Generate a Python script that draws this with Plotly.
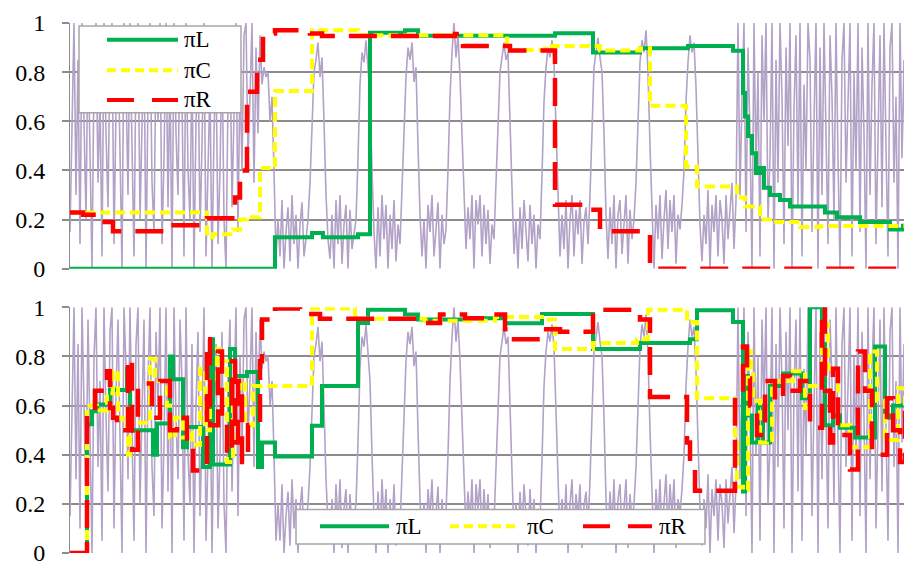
import plotly.graph_objects as go

# ---------------- data ----------------
# background signal (percent), sampled every 2 time units, shared by both panels
signal_pct = [
    15, 55, 100, 30, 85, 10, 100, 60, 20, 95,
    45, 0, 80, 100, 35, 70, 5, 100, 55, 25,
    90, 100, 10, 65, 95, 40, 0, 100, 75, 30,
    100, 50, 5, 85, 100, 20, 60, 95, 0, 70,
    100, 35, 15, 90, 60, 100, 10, 45, 100, 25,
    80, 0, 100, 55, 30, 95, 70, 5, 100, 40,
    20, 85, 0, 60, 90, 15, 50, 100, 5, 35,
    75, 0, 55, 85, 10, 40, 90, 20, 0, 70,
    95, 25, 60, 100, 15, 80, 40, 95, 100, 45,
    70, 100, 35, 90, 55, 95, 75, 82, 78, 80, 60,
    70, 40, 5,
    20, 5, 28, 0, 15, 25, 3, 30, 10, 22, 0, 18, 27, 5, 12, 20,
    35, 60, 80, 85, 92, 78, 86, 60, 30, 12, 4,
    22, 0, 28, 10, 30, 2, 18, 26, 0, 24, 8, 15,
    20, 45, 75, 88, 84, 93, 80, 70, 40, 15, 0,
    25, 5, 30, 12, 26, 0, 22, 8, 28, 3, 18, 10,
    30, 55, 78, 90, 85, 92, 76, 82, 50, 22, 5,
    20, 0, 26, 15, 30, 5, 18, 27, 0, 22, 10, 16,
    40, 70, 88, 100, 86, 95, 78, 55, 25, 8,
    25, 12, 30, 0, 28, 18, 30, 5, 26, 10, 24, 2, 18, 12,
    35, 62, 80, 86, 92, 85, 88, 60, 28, 6,
    20, 0, 25, 8, 28, 15, 3, 26, 10, 22, 0, 18, 12,
    38, 68, 82, 90, 86, 93, 84, 58, 26, 5,
    22, 8, 28, 0, 20, 30, 5, 24, 14, 28, 2, 19, 25, 10,
    30, 60, 82, 88, 94, 86, 80, 55, 22, 4,
    25, 10, 30, 0, 22, 28, 6, 18, 30, 2, 24, 12, 20,
    35, 65, 84, 93, 88, 97, 80, 50, 20, 0,
    26, 12, 30, 4, 20, 32, 8, 28, 15, 30, 2, 22, 16, 26,
    40, 68, 84, 95, 88, 92, 74, 48, 18, 3,
    22, 10, 32, 0, 26, 15, 30, 5, 28, 20, 2, 30, 12, 24, 35, 8, 28,
    100, 30, 70, 100, 15, 90, 55, 0, 100, 40,
    80, 5, 95, 60, 100, 20, 45, 100, 0, 85,
    35, 100, 70, 10, 90, 50, 100, 0, 65, 95,
    25, 100, 5, 75, 40, 100, 85, 15, 60, 100,
    0, 90, 30, 100, 55, 10, 95, 70, 20, 100,
    45, 0, 85, 100, 35, 65, 100, 5, 80, 40,
    100, 15, 90, 55, 0, 100, 30, 75, 100, 10,
    60, 95, 25, 100, 50, 5, 90, 100, 35, 70,
    0, 100, 45, 85, 15, 100, 60,
]
signal_step = 2

# top panel step series: breakpoints (time, value)
top_L_t = [0, 205, 242, 253, 288, 300, 335, 348, 485, 523, 570, 618, 663, 673, 675, 678, 682, 686, 690, 694, 700, 710, 720, 755, 767, 790, 820, 833, 840]
top_L_v = [0, 0.128, 0.145, 0.128, 0.14, 0.96, 0.97, 0.948, 0.958, 0.88, 0.897, 0.906, 0.887, 0.715, 0.62, 0.54, 0.47, 0.39, 0.41, 0.33, 0.30, 0.28, 0.253, 0.229, 0.21, 0.19, 0.16, 0.175, 0.175]

top_C_t = [0, 137, 143, 163, 170, 177, 190, 205, 242, 288, 437, 475, 530, 570, 580, 616, 627, 667, 675, 690, 700, 730, 750, 840]
top_C_v = [0.229, 0.128, 0.14, 0.16, 0.2, 0.21, 0.41, 0.723, 0.97, 0.95, 0.89, 0.906, 0.888, 0.897, 0.663, 0.415, 0.335, 0.29, 0.253, 0.2, 0.19, 0.17, 0.174, 0.174]

top_R_t = [0, 13, 30, 43, 95, 137, 165, 170, 177, 187, 193, 205, 240, 252, 385, 393, 440, 485, 510, 530, 580, 840]
top_R_v = [0.229, 0.22, 0.19, 0.153, 0.177, 0.205, 0.29, 0.4, 0.72, 0.85, 0.957, 0.97, 0.957, 0.947, 0.955, 0.906, 0.888, 0.26, 0.24, 0.153, 0.0, 0.0]

# bottom panel step series
bot_L_t = [0, 17, 22, 27, 40, 57, 60, 83, 87, 100, 103, 113, 117, 133, 140, 143, 160, 165, 177, 188, 192, 205, 242, 252, 288, 298, 335, 348, 395, 435, 472, 523, 570, 620, 627, 663, 673, 675, 678, 682, 688, 693, 700, 713, 732, 740, 752, 755, 763, 770, 785, 805, 815, 819, 823, 833, 840]
bot_L_v = [0, 0.524, 0.577, 0.604, 0.663, 0.75, 0.50, 0.40, 0.527, 0.80, 0.707, 0.43, 0.513, 0.35, 0.87, 0.36, 0.83, 0.72, 0.737, 0.35, 0.45, 0.393, 0.518, 0.68, 0.936, 0.99, 0.97, 0.95, 0.955, 0.935, 0.973, 0.83, 0.855, 0.87, 0.988, 0.94, 0.25, 0.72, 0.56, 0.45, 0.6, 0.45, 0.68, 0.73, 0.63, 1.0, 0.85, 0.52, 0.56, 0.51, 0.47, 0.84, 0.55, 0.56, 0.6, 0.6, 0.6]

bot_C_t = [0, 17, 27, 37, 43, 48, 53, 58, 60, 80, 85, 97, 100, 105, 113, 117, 122, 130, 135, 140, 147, 150, 157, 163, 170, 175, 183, 202, 242, 285, 355, 425, 475, 485, 523, 567, 578, 617, 627, 665, 667, 673, 678, 681, 683, 690, 697, 702, 723, 735, 740, 752, 758, 768, 780, 800, 807, 815, 828, 835, 840]
bot_C_v = [0, 0.6, 0.58, 0.65, 0.74, 0.55, 0.52, 0.4, 0.53, 0.79, 0.7, 0.6, 0.47, 0.55, 0.47, 0.49, 0.44, 0.75, 0.5, 0.7, 0.83, 0.78, 0.37, 0.6, 0.7, 0.52, 0.68, 0.68, 0.995, 0.953, 0.945, 0.96, 0.95, 0.83, 0.855, 0.87, 0.99, 0.94, 0.63, 0.45, 0.27, 0.256, 0.82, 0.74, 0.62, 0.45, 0.46, 0.7, 0.74, 0.59, 0.68, 0.93, 0.75, 0.52, 0.43, 0.82, 0.62, 0.46, 0.67, 0.48, 0.48]

bot_R_t = [0, 17, 25, 37, 40, 43, 47, 58, 62, 68, 82, 90, 100, 107, 117, 123, 137, 140, 148, 152, 157, 162, 165, 168, 172, 178, 190, 192, 205, 230, 250, 350, 370, 395, 415, 435, 440, 470, 490, 523, 570, 580, 617, 620, 625, 665, 673, 677, 680, 687, 695, 705, 713, 720, 730, 740, 752, 755, 760, 763, 768, 780, 788, 795, 802, 807, 817, 823, 830, 835, 838, 840]
bot_R_v = [0, 0.58, 0.66, 0.74, 0.59, 0.55, 0.5, 0.79, 0.42, 0.69, 0.55, 0.7, 0.5, 0.55, 0.43, 0.336, 0.87, 0.52, 0.82, 0.55, 0.4, 0.78, 0.45, 0.7, 0.37, 0.52, 0.78, 0.95, 0.995, 0.973, 0.953, 0.936, 0.97, 0.955, 0.97, 0.91, 0.87, 0.91, 0.9, 0.99, 0.95, 0.635, 0.45, 0.36, 0.253, 0.64, 0.84, 0.71, 0.6, 0.48, 0.7, 0.62, 0.72, 0.66, 0.7, 0.51, 1.0, 0.66, 0.45, 0.75, 0.48, 0.34, 0.82, 0.66, 0.4, 0.4, 0.63, 0.5, 0.37, 0.6, 0.8, 0.8]

names = ["πL", "πC", "πR"]
tick_vals = [0, 0.2, 0.4, 0.6, 0.8, 1]
tick_text = ["0", "0.2", "0.4", "0.6", "0.8", "1"]

# ---------------- styles ----------------
PURPLE = "#B3A2C7"
GREEN = "#00B050"
YELLOW = "#FFFF00"
RED = "#FF0000"
GRID = "#8C8C8C"
FONT = "Liberation Serif"

styles = [
    dict(color=GREEN, width=4, dash="solid"),
    dict(color=YELLOW, width=4, dash="10px,5px"),
    dict(color=RED, width=4.5, dash="28px,14px"),
]
legend_dash = ["solid", "9px,5px", "27px,18px"]

sig_t = [i * signal_step for i in range(len(signal_pct))]
sig_v = [v / 100 for v in signal_pct]

fig = go.Figure()

panels = [
    ("x", "y", [(top_L_t, top_L_v), (top_C_t, top_C_v), (top_R_t, top_R_v)]),
    ("x2", "y2", [(bot_L_t, bot_L_v), (bot_C_t, bot_C_v), (bot_R_t, bot_R_v)]),
]

for xa, ya, series in panels:
    fig.add_trace(go.Scatter(x=sig_t, y=sig_v, mode="lines", xaxis=xa, yaxis=ya,
                             line=dict(color=PURPLE, width=1.6), showlegend=False,
                             hoverinfo="skip"))
    for (t, v), nm, st in zip(series, names, styles):
        fig.add_trace(go.Scatter(x=t, y=v, mode="lines", name=nm, xaxis=xa, yaxis=ya,
                                 line=dict(shape="hv", **st), showlegend=False))

yax = dict(range=[0, 1], tickvals=tick_vals, ticktext=tick_text,
           showgrid=True, gridcolor=GRID, gridwidth=2, zeroline=False,
           showline=True, linecolor=GRID, linewidth=1,
           ticks="outside", ticklen=7, tickcolor=GRID, tickwidth=2,
           ticklabelstandoff=12,
           tickfont=dict(family=FONT, size=24, color="black"), fixedrange=True)
xax = dict(range=[0, 840], showgrid=False, zeroline=False, showline=False,
           showticklabels=False, ticks="", fixedrange=True)

# page is shown with an 8px body margin, so the figure is 904x560
W, H = 904, 560
L, T, B, R = 62, 8, 15, 2
PW, PH = W - L - R, H - T - B


def px(xp):  # page pixel -> paper x
    return (xp - 8 - L) / PW


def py(yp):  # page pixel -> paper y
    return 1 - (yp - 8 - T) / PH


shapes = []
annotations = []
BORDER = "#A6A6A6"
lfont = dict(family=FONT, size=23, color="black")

# top legend (vertical)
shapes.append(dict(type="rect", xref="paper", yref="paper", x0=px(79), x1=px(241),
                   y0=py(107), y1=py(19), fillcolor="white",
                   line=dict(color=BORDER, width=1.5), layer="above"))
for i, (nm, st, dsh) in enumerate(zip(names, styles, legend_dash)):
    yy = py([33, 64, 94][i])
    shapes.append(dict(type="line", xref="paper", yref="paper", x0=px(107), x1=px(178),
                       y0=yy, y1=yy, line=dict(color=st["color"], width=4, dash=dsh),
                       layer="above"))
    annotations.append(dict(xref="paper", yref="paper", x=px(182), y=yy, text=nm,
                            showarrow=False, xanchor="left", yanchor="middle", font=lfont))

# bottom legend (horizontal)
shapes.append(dict(type="rect", xref="paper", yref="paper", x0=px(296), x1=px(705),
                   y0=py(544), y1=py(509), fillcolor="white",
                   line=dict(color=BORDER, width=1.5), layer="above"))
row_y = py(526)
for nm, st, dsh, (a, b, tx) in zip(names, styles, legend_dash,
                                   [(320, 389, 394), (450, 520, 525), (583, 652, 657)]):
    shapes.append(dict(type="line", xref="paper", yref="paper", x0=px(a), x1=px(b),
                       y0=row_y, y1=row_y, line=dict(color=st["color"], width=4, dash=dsh),
                       layer="above"))
    annotations.append(dict(xref="paper", yref="paper", x=px(tx), y=row_y, text=nm,
                            showarrow=False, xanchor="left", yanchor="middle", font=lfont))

top_dom = [1 - 249 / PH, 1]
bot_dom = [0, 249 / PH]

fig.update_layout(
    width=W, height=H,
    margin=dict(l=L, r=R, t=T, b=B),
    paper_bgcolor="white", plot_bgcolor="white",
    xaxis=dict(domain=[0, 1], anchor="y", **xax),
    yaxis=dict(domain=top_dom, anchor="x", **yax),
    xaxis2=dict(domain=[0, 1], anchor="y2", **xax),
    yaxis2=dict(domain=bot_dom, anchor="x2", **yax),
    shapes=shapes, annotations=annotations,
    showlegend=False,
)

fig.write_html("out.html")
